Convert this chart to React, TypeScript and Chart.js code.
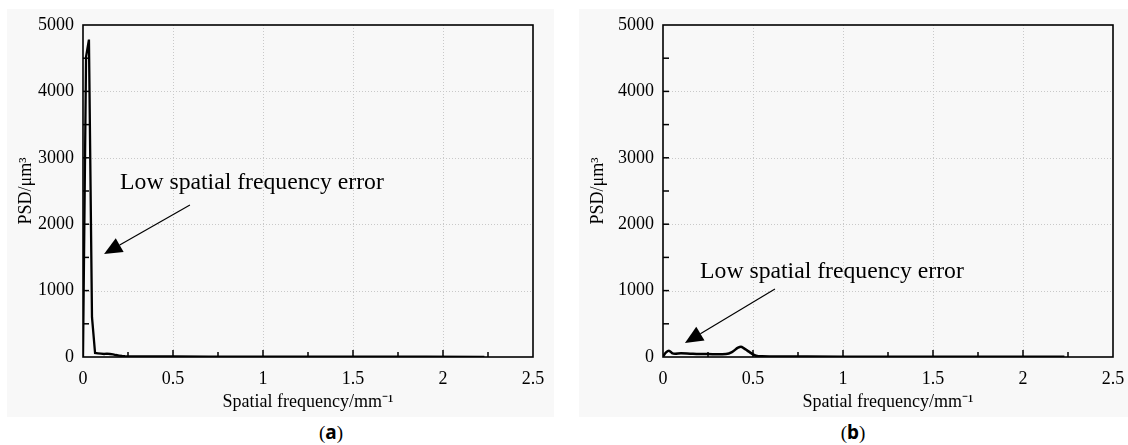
import React, { useEffect, useRef } from "react";
import { Chart, registerables } from "chart.js";

Chart.register(...registerables);

// ---- data ----
const xTicks = [0, 0.5, 1, 1.5, 2, 2.5];
const yTicks = [0, 1000, 2000, 3000, 4000, 5000];

const freqA = [0, 0.017, 0.033, 0.05, 0.067, 0.083, 0.1, 0.117, 0.133, 0.15, 0.167, 0.183, 0.2, 0.217, 0.233, 0.25, 0.3, 0.4, 0.5, 0.7, 1.0, 1.3, 1.6, 1.9, 2.23];
const psdA = [0, 4520, 4780, 600, 60, 55, 50, 45, 50, 45, 40, 30, 22, 15, 12, 10, 10, 8, 8, 6, 5, 5, 4, 4, 3];

const freqB = [0, 0.017, 0.033, 0.05, 0.067, 0.1, 0.15, 0.2, 0.25, 0.3, 0.35, 0.383, 0.417, 0.433, 0.45, 0.467, 0.483, 0.5, 0.517, 0.55, 0.6, 0.8, 1.0, 1.3, 1.6, 1.9, 2.23];
const psdB = [10, 70, 95, 60, 50, 55, 50, 45, 45, 40, 45, 75, 140, 155, 130, 100, 70, 40, 20, 10, 8, 6, 5, 5, 4, 4, 3];

const annotText = "Low spatial frequency error";
// annotation anchors in data units: [textX, textY, arrowFromX, arrowFromY, arrowToX, arrowToY]
const annotA = [0.206, 2620, 0.594, 2289, 0.117, 1551];
const annotB = [0.206, 1280, 0.622, 1024, 0.122, 211];

const FONT = "'Liberation Serif', 'Times New Roman', serif";

const framePlugin = {
  id: "psdFrame",
  beforeDatasetsDraw(chart: any) {
    const { ctx, chartArea: a, scales } = chart;
    const xs = scales.x, ys = scales.y;
    ctx.save();
    // dotted grid
    ctx.strokeStyle = "#c9c9c9";
    ctx.lineWidth = 1;
    ctx.setLineDash([1, 2]);
    xTicks.forEach((v) => {
      if (v <= 0 || v >= 2.5) return;
      const px = Math.round(xs.getPixelForValue(v)) + 0.5;
      ctx.beginPath(); ctx.moveTo(px, a.top); ctx.lineTo(px, a.bottom); ctx.stroke();
    });
    yTicks.forEach((v) => {
      if (v <= 0 || v >= 5000) return;
      const py = Math.round(ys.getPixelForValue(v)) + 0.5;
      ctx.beginPath(); ctx.moveTo(a.left, py); ctx.lineTo(a.right, py); ctx.stroke();
    });
    ctx.setLineDash([]);
    // frame
    ctx.strokeStyle = "#000";
    ctx.lineWidth = 1.6;
    ctx.strokeRect(a.left, a.top, a.right - a.left, a.bottom - a.top);
    // inward ticks
    ctx.lineWidth = 1.5;
    for (let i = 1; i < 10; i++) {
      const v = i * 0.25;
      const px = xs.getPixelForValue(v);
      const len = i % 2 === 0 ? 7 : 5;
      ctx.beginPath(); ctx.moveTo(px, a.bottom); ctx.lineTo(px, a.bottom - len); ctx.stroke();
    }
    for (let i = 1; i < 10; i++) {
      const v = i * 500;
      const py = ys.getPixelForValue(v);
      ctx.beginPath(); ctx.moveTo(a.left, py); ctx.lineTo(a.left + 6, py); ctx.stroke();
    }
    ctx.restore();
  },
  afterDraw(chart: any) {
    const an = chart.options.plugins.psdAnnot;
    if (!an) return;
    const { ctx, scales } = chart;
    const xs = scales.x, ys = scales.y;
    const [tx, ty, fx, fy, hx, hy] = an.pos;
    ctx.save();
    ctx.fillStyle = "#000";
    ctx.font = `${an.size}px ${FONT}`;
    ctx.textAlign = "left";
    ctx.textBaseline = "middle";
    ctx.fillText(an.text, xs.getPixelForValue(tx), ys.getPixelForValue(ty));
    const x1 = xs.getPixelForValue(fx), y1 = ys.getPixelForValue(fy);
    const x2 = xs.getPixelForValue(hx), y2 = ys.getPixelForValue(hy);
    const ang = Math.atan2(y2 - y1, x2 - x1);
    const hl = 18, hw = 8;
    const bx = x2 - hl * Math.cos(ang), by = y2 - hl * Math.sin(ang);
    ctx.strokeStyle = "#000";
    ctx.lineWidth = 1.2;
    ctx.beginPath(); ctx.moveTo(x1, y1); ctx.lineTo(bx, by); ctx.stroke();
    ctx.beginPath();
    ctx.moveTo(x2, y2);
    ctx.lineTo(bx + hw * Math.sin(ang), by - hw * Math.cos(ang));
    ctx.lineTo(bx - hw * Math.sin(ang), by + hw * Math.cos(ang));
    ctx.closePath();
    ctx.fill();
    ctx.restore();
  },
};

type PanelProps = {
  xs: number[];
  ys: number[];
  left: number;
  width: number;
  yAxisWidth: number;
  rightPad: number;
  yTickPad: number;
  annot: number[];
  smooth: boolean;
};

function zeroPad(s: any) {
  s.paddingLeft = 0;
  s.paddingRight = 0;
  s.paddingTop = 0;
  s.paddingBottom = 0;
}

function PsdPanel(p: PanelProps) {
  const ref = useRef<HTMLCanvasElement>(null);
  useEffect(() => {
    const font = { family: FONT, size: 18 };
    const chart = new Chart(ref.current as HTMLCanvasElement, {
      type: "line",
      data: {
        datasets: [
          {
            data: p.xs.map((v, i) => ({ x: v, y: p.ys[i] })),
            borderColor: "#000",
            borderWidth: p.smooth ? 2.5 : 2.3,
            pointRadius: 0,
            tension: 0,
            cubicInterpolationMode: p.smooth ? "monotone" : "default",
            borderJoinStyle: "miter",
            fill: false,
          },
        ],
      },
      options: {
        animation: false,
        responsive: false,
        maintainAspectRatio: false,
        layout: { padding: { top: 16, right: p.rightPad, left: 0, bottom: 0 } },
        plugins: {
          legend: { display: false },
          tooltip: { enabled: false },
          psdAnnot: { text: annotText, size: 23.7, pos: p.annot },
        } as any,
        scales: {
          x: {
            type: "linear",
            min: 0,
            max: 2.5,
            afterBuildTicks: (s: any) => { s.ticks = xTicks.map((v) => ({ value: v })); },
            afterFit: (s: any) => { s.height = 60; zeroPad(s); },
            grid: { display: false, drawTicks: false, tickLength: 0 },
            border: { display: false },
            ticks: { color: "#000", font, padding: 11, maxRotation: 0, callback: (v: any) => String(v) },
            title: { display: true, text: "Spatial frequency/mm⁻¹", color: "#000", font, padding: { top: 0, bottom: 4 } },
          },
          y: {
            type: "linear",
            min: 0,
            max: 5000,
            afterBuildTicks: (s: any) => { s.ticks = yTicks.map((v) => ({ value: v })); },
            afterFit: (s: any) => { s.width = p.yAxisWidth; zeroPad(s); },
            grid: { display: false, drawTicks: false, tickLength: 0 },
            border: { display: false },
            ticks: { color: "#000", font, padding: p.yTickPad, callback: (v: any) => String(v) },
            title: { display: true, text: "PSD/μm³", color: "#000", font, padding: { top: 8, bottom: 0 } },
          },
        },
      } as any,
      plugins: [framePlugin],
    });
    return () => chart.destroy();
  }, []);
  return (
    <canvas
      ref={ref}
      width={p.width}
      height={408}
      style={{ position: "absolute", left: p.left, top: 9, width: p.width, height: 408, background: "#f8f8f8" }}
    />
  );
}

export default function App() {
  const lab: React.CSSProperties = {
    position: "absolute",
    top: 420,
    width: 60,
    textAlign: "center",
    fontFamily: FONT,
    fontSize: 19,
    lineHeight: "24px",
    color: "#000",
  };
  return (
    <div style={{ position: "absolute", left: 0, top: 0, width: 1128, height: 445, background: "#fff", overflow: "hidden" }}>
      <PsdPanel xs={freqA} ys={psdA} left={7} width={547} yAxisWidth={76} rightPad={21} yTickPad={9} annot={annotA} smooth={false} />
      <PsdPanel xs={freqB} ys={psdB} left={579} width={549} yAxisWidth={84} rightPad={15} yTickPad={9} annot={annotB} smooth={true} />
      <div style={{ ...lab, left: 301 }}>(<b style={{ fontFamily: "'Noto Sans', sans-serif" }}>a</b>)</div>
      <div style={{ ...lab, left: 823 }}>(<b style={{ fontFamily: "'Noto Sans', sans-serif" }}>b</b>)</div>
    </div>
  );
}
